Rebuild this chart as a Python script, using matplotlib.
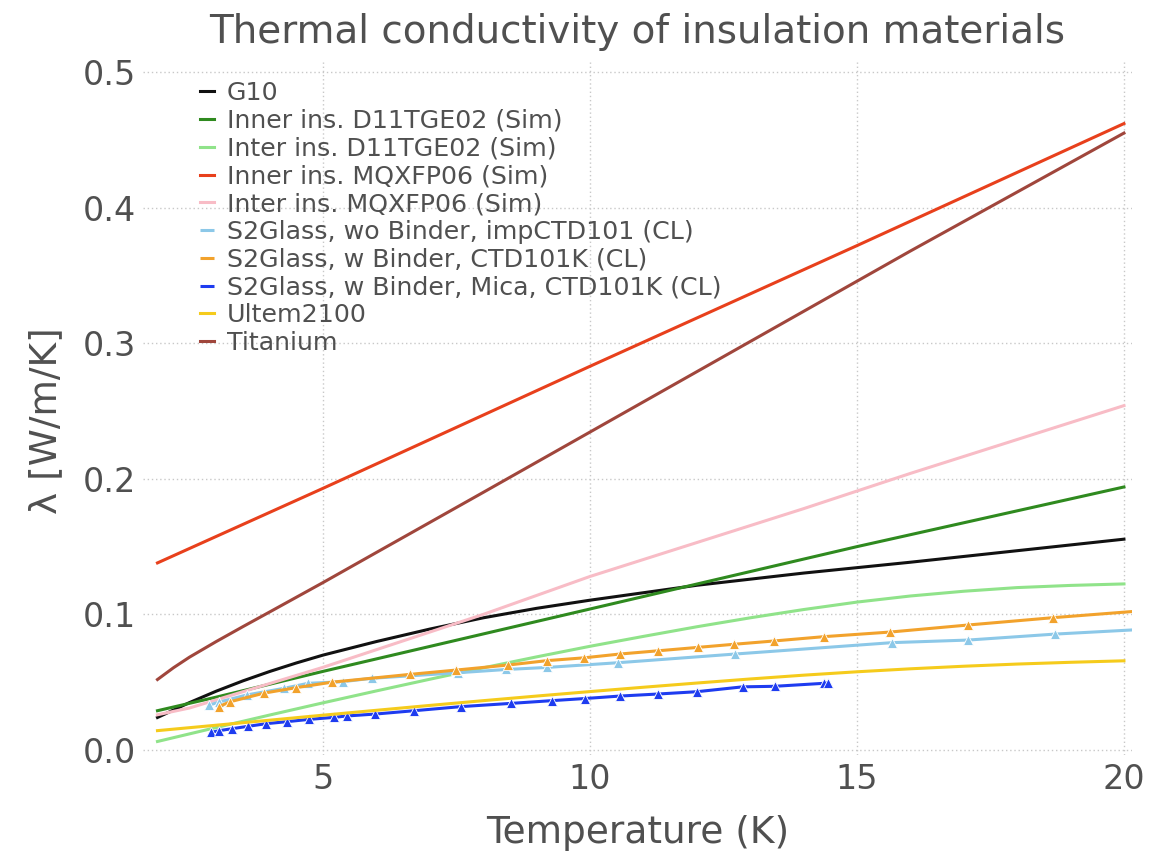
import matplotlib
matplotlib.use("Agg")
import matplotlib.pyplot as plt

# ---------------- data ----------------
T_g10 = [1.9, 2.5, 3.0, 3.5, 4.0, 4.5, 5.0, 6.0, 7.0, 8.0, 9.0, 10.0, 12.0, 14.0, 16.0, 18.0, 20.0]
k_g10 = [0.024, 0.035, 0.0434, 0.051, 0.0579, 0.0642, 0.070, 0.080, 0.0892, 0.0975, 0.1045, 0.1105,
         0.1215, 0.1305, 0.1385, 0.147, 0.1555]

T_inner_d11 = [1.9, 3.0, 5.0, 7.5, 10.0, 12.5, 15.0, 17.5, 20.0]
k_inner_d11 = [0.029, 0.039, 0.058, 0.081, 0.104, 0.127, 0.150, 0.172, 0.194]

T_inter_d11 = [1.9, 3.0, 4.0, 5.0, 6.0, 7.0, 8.0, 9.0, 10.0, 11.0, 12.0, 13.0, 14.0, 15.0,
               16.0, 17.0, 18.0, 19.0, 20.0]
k_inter_d11 = [0.0063, 0.0166, 0.0258, 0.0348, 0.0436, 0.0522, 0.0606, 0.0687, 0.0765, 0.0838,
               0.0909, 0.0975, 0.1036, 0.1091, 0.1136, 0.1171, 0.1198, 0.1214, 0.1225]

T_inner_mqxf = [1.9, 5.0, 10.0, 15.0, 20.0]
k_inner_mqxf = [0.138, 0.193, 0.283, 0.372, 0.462]

T_inter_mqxf = [1.9, 2.5, 3.0, 4.0, 5.0, 6.0, 7.0, 8.0, 10.0, 12.0, 14.0, 16.0, 18.0, 20.0]
k_inter_mqxf = [0.026, 0.031, 0.037, 0.049, 0.061, 0.074, 0.087, 0.100, 0.128, 0.153, 0.178, 0.204, 0.229, 0.254]

T_s2_wo = [2.87, 3.06, 3.57, 4.27, 4.72, 5.37, 5.91, 7.53, 8.43, 9.19, 10.53, 12.72, 15.66, 17.08, 18.71, 20.6]
k_s2_wo = [0.0332, 0.0354, 0.0406, 0.0455, 0.0492, 0.0504, 0.0529, 0.0570, 0.0594, 0.0609, 0.0644, 0.0708, 0.0792, 0.0811, 0.0855, 0.0895]

T_s2_w = [3.05, 3.26, 3.9, 4.5, 5.16, 6.63, 7.50, 8.47, 9.19, 9.89, 10.56, 11.28, 12.02, 12.70, 13.44, 14.38, 15.62, 17.08, 18.67, 20.6]
k_s2_w = [0.0320, 0.0356, 0.0420, 0.0460, 0.0500, 0.0558, 0.0590, 0.0627, 0.0659, 0.0680, 0.0708, 0.0732, 0.0757, 0.0780, 0.0804, 0.0836, 0.0870, 0.0922, 0.0976, 0.1035]

T_s2_mica = [2.90, 3.06, 3.29, 3.60, 3.93, 4.32, 4.74, 5.21, 5.44, 5.97, 6.71, 7.58, 8.52, 9.28, 9.91, 10.56, 11.27, 12.00, 12.86, 13.46, 14.38, 14.45]
k_s2_mica = [0.0130, 0.0143, 0.0157, 0.0175, 0.0194, 0.0209, 0.0226, 0.0241, 0.0251, 0.0265, 0.0290, 0.0320, 0.0344, 0.0364, 0.0380, 0.0398, 0.0413, 0.0430, 0.0466, 0.0470, 0.0492, 0.0498]

T_ultem = [1.9, 3.0, 4.0, 5.0, 6.0, 7.0, 8.0, 9.0, 10.0, 11.0, 12.0, 13.0, 14.0, 15.0, 16.0, 17.0, 18.0, 19.0, 20.0]
k_ultem = [0.0143, 0.0183, 0.0220, 0.0257, 0.0293, 0.0329, 0.0364, 0.0398, 0.0431, 0.0463, 0.0494,
           0.0524, 0.0552, 0.0577, 0.0599, 0.0618, 0.0634, 0.0647, 0.0658]

T_ti = [1.9, 2.2, 2.5, 3.0, 3.5, 4.0, 5.0, 6.0, 8.0, 10.0, 12.0, 14.0, 16.0, 18.0, 20.0]
k_ti = [0.052, 0.0607, 0.0685, 0.080, 0.091, 0.1018, 0.1235, 0.1457, 0.190, 0.2345, 0.279, 0.3235, 0.368, 0.4115, 0.455]

labels = ["G10",
          "Inner ins. D11TGE02 (Sim)",
          "Inter ins. D11TGE02 (Sim)",
          "Inner ins. MQXFP06 (Sim)",
          "Inter ins. MQXFP06 (Sim)",
          "S2Glass, wo Binder, impCTD101 (CL)",
          "S2Glass, w Binder, CTD101K (CL)",
          "S2Glass, w Binder, Mica, CTD101K (CL)",
          "Ultem2100",
          "Titanium"]

x_ticks = [5, 10, 15, 20]
y_ticks = [0.0, 0.1, 0.2, 0.3, 0.4, 0.5]
y_ticklabels = ["0.0", "0.1", "0.2", "0.3", "0.4", "0.5"]

# ---------------- plotting ----------------
plt.rcParams['font.family'] = ['DejaVu Sans']
txt = '#505050'

fig = plt.figure(figsize=(11.58, 8.52), dpi=100)
ax = fig.add_axes([0.1235, 0.1138, 0.854, 0.8134])

series = [
    (T_g10, k_g10, '#111111', False),
    (T_inner_d11, k_inner_d11, '#2f8a1f', False),
    (T_inter_d11, k_inter_d11, '#90e38a', False),
    (T_inner_mqxf, k_inner_mqxf, '#e8401c', False),
    (T_inter_mqxf, k_inter_mqxf, '#f8bcc6', False),
    (T_s2_wo, k_s2_wo, '#8cc8e8', True),
    (T_s2_w, k_s2_w, '#f2a22c', True),
    (T_s2_mica, k_s2_mica, '#1e3cf0', True),
    (T_ultem, k_ultem, '#f5cb1c', False),
    (T_ti, k_ti, '#a0463c', False),
]

for (T, k, c, mk), lab in zip(series, labels):
    if mk:
        ax.plot(T, k, color=c, lw=2.2, marker='^', ms=7, mfc=c,
                mec='white', mew=0.6, label=lab, solid_capstyle='butt')
    else:
        ax.plot(T, k, color=c, lw=2.2, label=lab, solid_joinstyle='round')

ax.set_xlim(1.629, 20.15)
ax.set_ylim(-0.0037, 0.5074)
ax.set_xticks(x_ticks)
ax.set_xticklabels([str(v) for v in x_ticks])
ax.set_yticks(y_ticks)
ax.set_yticklabels(y_ticklabels)
ax.tick_params(axis='both', length=0, labelsize=24, labelcolor=txt)
ax.tick_params(axis='x', pad=6)
ax.tick_params(axis='y', pad=5)

for s in ax.spines.values():
    s.set_visible(False)
ax.grid(True, color='#c8c8c8', linestyle=(0, (1, 2)), linewidth=1.0)
ax.set_axisbelow(True)

ax.set_title("Thermal conductivity of insulation materials", fontsize=28,
             color=txt, pad=14)
ax.set_xlabel("Temperature (K)", fontsize=27, color=txt)
ax.xaxis.set_label_coords(0.5, -0.087)
ax.set_ylabel("λ [W/m/K]", fontsize=27, color=txt)
ax.yaxis.set_label_coords(-0.08, 0.483)

leg = ax.legend(loc='upper left', bbox_to_anchor=(200 / 1158, 1 - 81 / 852),
                bbox_transform=fig.transFigure, frameon=False, fontsize=18.2,
                handlelength=0.55, handletextpad=0.5, labelspacing=0.15,
                borderpad=0, borderaxespad=0, markerscale=0)
for t in leg.get_texts():
    t.set_color(txt)
for h in leg.get_lines():
    h.set_marker('')
    h.set_linewidth(2.2)

fig.savefig("out.png", dpi=100)
